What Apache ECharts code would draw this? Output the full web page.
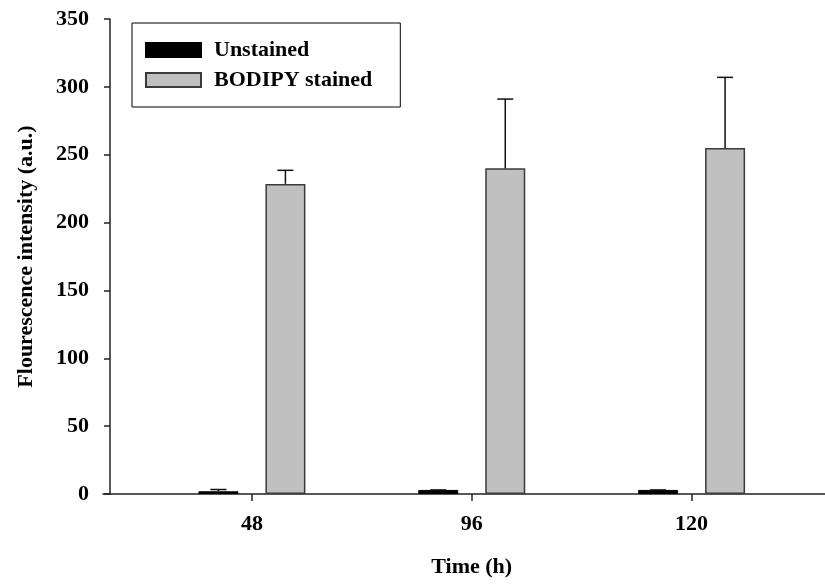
<!DOCTYPE html>
<html>
<head>
<meta charset="utf-8">
<script src="https://cdn.jsdelivr.net/npm/echarts@6/dist/echarts.min.js"></script>
<style>
html,body{margin:0;padding:0;background:#fff;}
#chart{width:825px;height:588px;}
</style>
</head>
<body>
<div id="chart"></div>
<script>
// ---- data ----
const categories = ['48', '96', '120'];
const seriesNames = ['Unstained', 'BODIPY stained'];
const unstained = [2, 3, 3];
const unstainedErr = [1.3, 0, 0];
const bodipy = [228.5, 240, 255];
const bodipyErr = [10, 51, 52];
const yTicks = [0, 50, 100, 150, 200, 250, 300, 350];

// ---- style constants ----
const FONT = '"Liberation Serif", "Times New Roman", serif';
const BAR_W = 40;
const BAR_GAP = 0.675; // fraction of bar width
const HALF_SPACING = (BAR_W + BAR_W * BAR_GAP) / 2;

function errData(vals, errs) {
  return vals.map((v, i) => [i, v, v + errs[i]]);
}

function makeErrRender(offset) {
  return function (params, api) {
    const i = api.value(0);
    const base = api.coord([i, api.value(1)]);
    const top = api.coord([i, api.value(2)]);
    const x = base[0] + offset;
    const capHalf = 8;
    const style = { stroke: '#111', lineWidth: 1.5, fill: null };
    return {
      type: 'group',
      children: [
        { type: 'line', shape: { x1: x, y1: base[1], x2: x, y2: top[1] }, style: style },
        { type: 'line', shape: { x1: x - capHalf, y1: top[1], x2: x + capHalf, y2: top[1] }, style: style }
      ]
    };
  };
}

const chart = echarts.init(document.getElementById('chart'), null, { renderer: 'canvas' });

const axisLineStyle = { color: '#222', width: 1.5 };
const labelStyle = { fontFamily: FONT, fontWeight: 'bold', fontSize: 22, color: '#000' };

chart.setOption({
  animation: false,
  backgroundColor: '#fff',
  grid: [
    { left: 142, right: 23.5, top: 19, bottom: 94 },
    { left: 103, right: 0, top: 19, bottom: 94 }
  ],
  legend: {
    data: seriesNames,
    orient: 'vertical',
    left: 132,
    top: 23,
    itemWidth: 55,
    itemHeight: 14,
    itemGap: 8,
    padding: [16, 28, 16, 13],
    borderColor: '#000',
    borderWidth: 1,
    backgroundColor: '#fff',
    icon: 'rect',
    textStyle: Object.assign({}, labelStyle, { padding: [0, 0, 0, 8] })
  },
  xAxis: [
    {
      type: 'category',
      gridIndex: 0,
      data: categories,
      name: 'Time (h)',
      nameLocation: 'middle',
      nameGap: 62,
      nameTextStyle: labelStyle,
      axisLine: { show: false },
      axisTick: { show: true, alignWithLabel: true, length: 7, interval: 0, lineStyle: axisLineStyle },
      axisLabel: Object.assign({}, labelStyle, { margin: 19, interval: 0 }),
      splitLine: { show: false }
    },
    {
      type: 'value',
      gridIndex: 1,
      min: 0,
      max: 1,
      axisLine: { show: true, onZero: false, lineStyle: axisLineStyle },
      axisTick: { show: false },
      axisLabel: { show: false },
      splitLine: { show: false }
    }
  ],
  yAxis: [
    {
      type: 'value',
      gridIndex: 0,
      min: yTicks[0],
      max: yTicks[yTicks.length - 1],
      interval: 50,
      offset: 32,
      name: 'Flourescence intensity (a.u.)',
      nameLocation: 'middle',
      nameGap: 73,
      nameTextStyle: labelStyle,
      axisLine: { show: true, lineStyle: axisLineStyle },
      axisTick: { show: true, length: 6, lineStyle: axisLineStyle },
      axisLabel: Object.assign({}, labelStyle, { margin: 21 }),
      splitLine: { show: false }
    },
    {
      type: 'value',
      gridIndex: 1,
      min: 0,
      max: 1,
      show: false
    }
  ],
  series: [
    {
      name: seriesNames[0],
      type: 'bar',
      xAxisIndex: 0,
      yAxisIndex: 0,
      data: unstained,
      barWidth: BAR_W,
      barGap: (BAR_GAP * 100) + '%',
      itemStyle: { color: '#000', borderColor: '#000', borderWidth: 1 },
      z: 2
    },
    {
      name: seriesNames[1],
      type: 'bar',
      xAxisIndex: 0,
      yAxisIndex: 0,
      data: bodipy,
      barWidth: BAR_W,
      barGap: (BAR_GAP * 100) + '%',
      itemStyle: { color: '#c0c0c0', borderColor: '#3a3a3a', borderWidth: 1.5 },
      z: 2
    },
    {
      type: 'custom',
      xAxisIndex: 0,
      yAxisIndex: 0,
      data: errData(unstained, unstainedErr),
      renderItem: makeErrRender(-HALF_SPACING),
      z: 3,
      silent: true
    },
    {
      type: 'custom',
      xAxisIndex: 0,
      yAxisIndex: 0,
      data: errData(bodipy, bodipyErr),
      renderItem: makeErrRender(HALF_SPACING),
      z: 3,
      silent: true
    }
  ]
});
</script>
</body>
</html>
